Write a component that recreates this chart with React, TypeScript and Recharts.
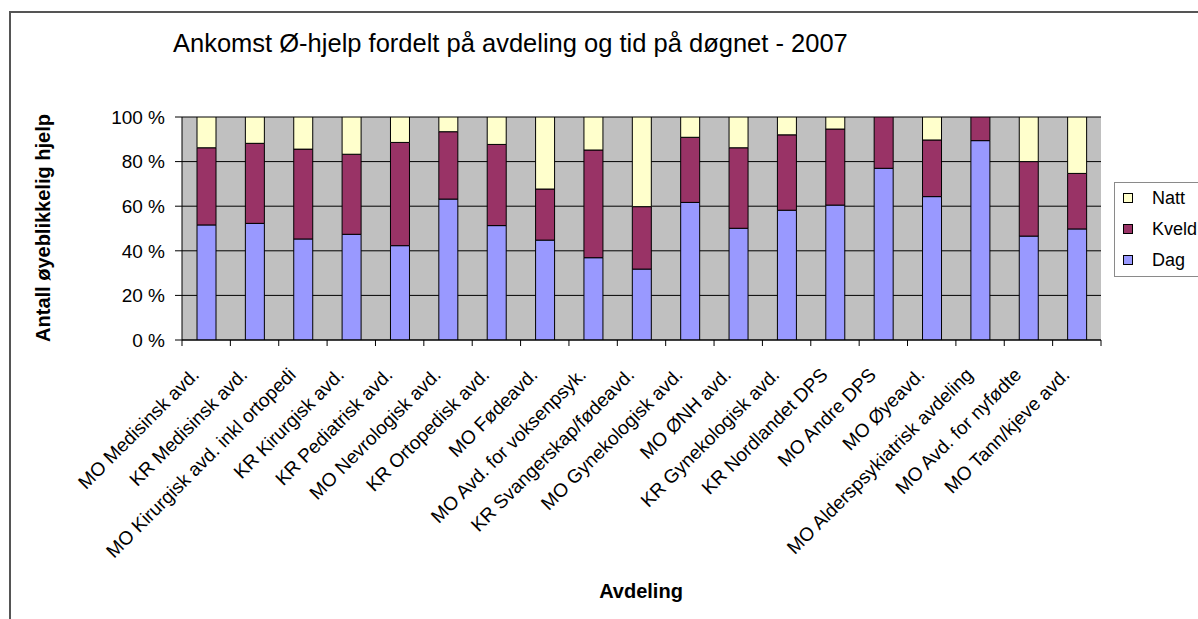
import React from "react";
import { BarChart, Bar, XAxis, YAxis, CartesianGrid, Legend } from "recharts";

const categories: string[] = [
  "MO Medisinsk avd.",
  "KR Medisinsk avd.",
  "MO Kirurgisk avd. inkl ortopedi",
  "KR Kirurgisk avd.",
  "KR Pediatrisk avd.",
  "MO Nevrologisk avd.",
  "KR Ortopedisk avd.",
  "MO Fødeavd.",
  "MO Avd. for voksenpsyk.",
  "KR Svangerskap/fødeavd.",
  "MO Gynekologisk avd.",
  "MO ØNH avd.",
  "KR Gynekologisk avd.",
  "KR Nordlandet DPS",
  "MO Andre DPS",
  "MO Øyeavd.",
  "MO Alderspsykiatrisk avdeling",
  "MO Avd. for nyfødte",
  "MO Tann/kjeve avd.",
];

const dag: number[] = [51.6, 52.3, 45.3, 47.4, 42.3, 63.2, 51.3, 44.8, 36.9, 31.8, 61.7, 50.1, 58.2, 60.5, 77.0, 64.3, 89.4, 46.6, 49.8];
const kveld: number[] = [34.6, 35.9, 40.3, 35.9, 46.3, 30.2, 36.4, 22.9, 48.3, 28.0, 29.2, 36.1, 33.8, 34.1, 23.0, 25.4, 10.6, 33.4, 24.9];
const natt: number[] = [13.8, 11.8, 14.4, 16.7, 11.4, 6.6, 12.3, 32.3, 14.8, 40.2, 9.1, 13.8, 8.0, 5.4, 0, 10.3, 0, 20.0, 25.3];

const yTicks: number[] = [0, 20, 40, 60, 80, 100];

const seriesNames = { dag: "Dag", kveld: "Kveld", natt: "Natt" };
const colors = { dag: "#9999FF", kveld: "#993366", natt: "#FFFFCC" };

const data = categories.map((name, i) => ({
  name,
  dag: dag[i],
  kveld: kveld[i],
  natt: natt[i],
}));

const FONT = "'Liberation Sans', Arial, sans-serif";

const XTick = (props: any) => {
  const { x, y, payload, index, width, visibleTicksCount } = props;
  const count = visibleTicksCount || categories.length;
  const band = (width || 919) / count;
  const ax = x - 6;
  const ay = y + 36;
  return (
    <g>
      <line x1={x - band / 2} x2={x - band / 2} y1={y} y2={y + 6} stroke="#000" strokeWidth={1} />
      {index === count - 1 && (
        <line x1={x + band / 2} x2={x + band / 2} y1={y} y2={y + 6} stroke="#000" strokeWidth={1} />
      )}
      <text
        x={ax}
        y={ay}
        transform={`rotate(-45, ${ax}, ${ay})`}
        textAnchor="end"
        fontSize={19}
        fontFamily={FONT}
        fill="#000"
      >
        {payload.value}
      </text>
    </g>
  );
};

const LegendContent = () => {
  const items: Array<keyof typeof colors> = ["natt", "kveld", "dag"];
  return (
    <svg width={90} height={96} style={{ display: "block" }}>
      <rect x={0.5} y={0.5} width={100} height={94} fill="#fff" stroke="#8a8a8a" strokeWidth={1} />
      {items.map((k, i) => (
        <g key={k}>
          <rect x={9.5} y={11.5 + i * 31} width={9} height={9} fill={colors[k]} stroke="#000" strokeWidth={1} />
          <text x={38} y={22 + i * 31} fontSize={18} fontFamily={FONT} fill="#000">
            {seriesNames[k]}
          </text>
        </g>
      ))}
    </svg>
  );
};

export default function App() {
  return (
    <div style={{ position: "absolute", left: 0, top: 0, width: 1198, height: 619, background: "#fff", overflow: "hidden" }}>
      <BarChart
        width={1198}
        height={619}
        data={data}
        margin={{ top: 117, right: 97, bottom: 0, left: 0 }}
        barSize={19}
      >
        <CartesianGrid vertical={false} horizontal={true} stroke="#000" strokeWidth={1} fill="#C0C0C0" fillOpacity={1} />
        <XAxis
          dataKey="name"
          interval={0}
          height={279}
          tick={<XTick />}
          tickLine={false}
          tickSize={0}
          tickMargin={0}
          axisLine={{ stroke: "#000", strokeWidth: 1 }}
        />
        <YAxis
          width={182}
          domain={[0, 100]}
          ticks={yTicks}
          tickFormatter={(v: number) => `${v} %`}
          tickSize={7}
          tickMargin={10}
          tickLine={{ stroke: "#000" }}
          axisLine={{ stroke: "#000", strokeWidth: 1 }}
          tick={{ fontSize: 19, fontFamily: FONT, fill: "#000" }}
          allowDataOverflow
        />
        <Legend
          layout="horizontal"
          verticalAlign="middle"
          align="center"
          content={<LegendContent />}
          wrapperStyle={{ left: 1114, top: 182, width: 90, height: 96 }}
        />
        <Bar dataKey="dag" name={seriesNames.dag} stackId="a" fill={colors.dag} stroke="#000" strokeWidth={1} isAnimationActive={false} />
        <Bar dataKey="kveld" name={seriesNames.kveld} stackId="a" fill={colors.kveld} stroke="#000" strokeWidth={1} isAnimationActive={false} />
        <Bar dataKey="natt" name={seriesNames.natt} stackId="a" fill={colors.natt} stroke="#000" strokeWidth={1} isAnimationActive={false} />
      </BarChart>
      <svg
        width={1198}
        height={619}
        style={{ position: "absolute", left: 0, top: 0, pointerEvents: "none" }}
      >
        <rect x={10} y={12} width={1400} height={900} fill="none" stroke="#555" strokeWidth={2} />
        <text x={173} y={52} fontSize={25.5} fontFamily={FONT} fill="#000">
          Ankomst Ø-hjelp fordelt på avdeling og tid på døgnet - 2007
        </text>
        <text
          x={50}
          y={228}
          transform="rotate(-90, 50, 228)"
          textAnchor="middle"
          fontSize={20}
          fontWeight="bold"
          fontFamily={FONT}
          fill="#000"
        >
          Antall øyeblikkelig hjelp
        </text>
        <text x={641} y={598} textAnchor="middle" fontSize={20} fontWeight="bold" fontFamily={FONT} fill="#000">
          Avdeling
        </text>
      </svg>
    </div>
  );
}
